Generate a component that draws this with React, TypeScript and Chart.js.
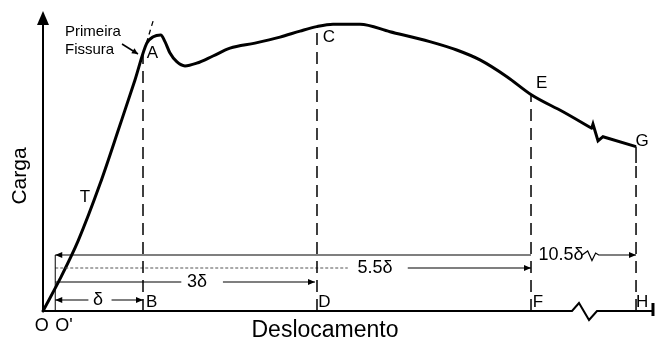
import { useEffect, useRef } from 'react';
import { Chart, registerables } from 'chart.js';

Chart.register(...registerables);

// ---- Data (displacement units 0..100, load units 0..100) ----
// Load–displacement curve (smooth part, before the break)
const curveX = [0, 2.78, 5.72, 9.31, 12.58, 15.03, 16.94, 18.02, 19.23, 19.93, 20.75, 21.85, 23.2, 25.11, 27.78, 30.56, 34.64, 38.73, 42.0, 44.72, 47.39, 51.8, 56.7, 63.2, 67.6, 71.4, 75.8, 79.85, 84.97, 89.66];
const curveY = [0, 10.7, 23.3, 42.3, 62, 77, 89.2, 91.4, 92, 89.8, 86, 83.1, 81.7, 82.6, 85, 87.6, 89.3, 91.3, 93.3, 94.8, 95.6, 95.6, 93.1, 89.8, 87, 83.7, 78.1, 72, 66.4, 60.9];
// Curve after the break (zigzag) up to G
const tailX = [89.66, 89.87, 90.69, 91.5, 96.9];
const tailY = [60.9, 62.3, 56.7, 58.1, 54.8];

// Characteristic deflections B, D, F, H and the load at each
const markNames = ['B', 'D', 'F', 'H'];
const markX = [16.34, 44.77, 79.74, 96.9];
const markTopY = [85.3, 94.8, 72, 49.3];
// G tick (solid piece above the H dashed line)
const gTickY = [49.3, 54.8];

// First-crack tangent extension
const tangentX = [16.9, 18.14];
const tangentY = [89.3, 97.7];

// O' (origin corrected)
const oPrimeX = 2.0;

// Axes
const yAxisTop = 96;
const xAxisX = [0, 86.44, 87.58, 89.22, 90.52, 99.67];
const xAxisY = [0, 0, 2.67, -3, 0, 0];

// Dimension rows: 10.5δ, 5.5δ, 3δ, δ
const dimLabels = ['10.5δ', '5.5δ', '3δ', 'δ'];
const dimY = [18.67, 14.33, 9.67, 3.67];
const dimEndX = [96.9, 79.74, 44.44, 16.34];
const dimGapStart = [79.74, 49.8, 22.6, 7.42];
const dimGapEnd = [88.1, 59.6, 29.4, 11.2];
const dimLabelX = [84.64, 54.25, 25.16, 8.99];
// squiggle on the 10.5δ row
const squiggleX = [88.1, 89.0, 89.7, 90.3, 90.8, 96.9];
const squiggleDY = [0, 1.33, -1.87, 0.63, 0, 0];

// Point labels
const pointLabels = [
  { t: 'A', x: 17.89, y: 85.83 },
  { t: 'C', x: 46.73, y: 91.17 },
  { t: 'E', x: 81.49, y: 76 },
  { t: 'G', x: 97.88, y: 56.67 },
  { t: 'T', x: 6.86, y: 38 },
  { t: 'B', x: 17.76, y: 3 },
  { t: 'D', x: 45.96, y: 3 },
  { t: 'F', x: 80.88, y: 3 },
  { t: 'H', x: 97.88, y: 3 },
];

const FONT = '"Liberation Sans", Arial, Helvetica, sans-serif';

function line(xs: number[], ys: number[], opts: any = {}) {
  return {
    data: xs.map((x, i) => ({ x, y: ys[i] })),
    showLine: true,
    pointRadius: 0,
    borderColor: '#000',
    borderWidth: 1,
    fill: false,
    clip: false,
    tension: 0,
    ...opts,
  };
}

function arrowHead(ctx: CanvasRenderingContext2D, fx: number, fy: number, tx: number, ty: number, len: number, half: number) {
  const a = Math.atan2(ty - fy, tx - fx);
  ctx.beginPath();
  ctx.moveTo(tx, ty);
  ctx.lineTo(tx - len * Math.cos(a) + half * Math.sin(a), ty - len * Math.sin(a) - half * Math.cos(a));
  ctx.lineTo(tx - len * Math.cos(a) - half * Math.sin(a), ty - len * Math.sin(a) + half * Math.cos(a));
  ctx.closePath();
  ctx.fill();
}

const annotPlugin = {
  id: 'annot',
  afterDatasetsDraw(chart: any) {
    const { ctx } = chart;
    const sx = chart.scales.x;
    const sy = chart.scales.y;
    const px = (v: number) => sx.getPixelForValue(v);
    const py = (v: number) => sy.getPixelForValue(v);
    ctx.save();
    ctx.fillStyle = '#000';
    ctx.strokeStyle = '#000';

    // y-axis arrowhead
    arrowHead(ctx, px(0), py(0), px(0), py(100), 14, 6);

    // dimension arrowheads (right ends)
    dimY.forEach((y, i) => {
      arrowHead(ctx, px(dimEndX[i]) - 10, py(y), px(dimEndX[i]), py(y), 7, 3);
    });
    // left arrowheads for rows 10.5δ and δ
    [0, 3].forEach((i) => {
      arrowHead(ctx, px(oPrimeX) + 10, py(dimY[i]), px(oPrimeX), py(dimY[i]), 7, 3);
    });

    // Primeira Fissura pointer
    ctx.lineWidth = 1.5;
    ctx.beginPath();
    ctx.moveTo(px(12.91), py(89));
    ctx.lineTo(px(15.52), py(85.67));
    ctx.stroke();
    arrowHead(ctx, px(12.91), py(89), px(15.52), py(85.67), 6, 3);

    ctx.textAlign = 'center';
    ctx.textBaseline = 'middle';

    // point labels
    ctx.font = `17px ${FONT}`;
    pointLabels.forEach((l) => ctx.fillText(l.t, px(l.x), py(l.y)));

    // O and O'
    ctx.font = `18px ${FONT}`;
    ctx.fillText('O', px(-0.2), py(-5));
    ctx.textAlign = 'left';
    ctx.fillText("O'", px(oPrimeX), py(-5));

    // dimension labels
    ctx.textAlign = 'center';
    ctx.font = `18px ${FONT}`;
    dimLabels.forEach((t, i) => ctx.fillText(t, px(dimLabelX[i]), py(dimY[i])));

    // first-crack note
    ctx.font = `15px ${FONT}`;
    ctx.textAlign = 'left';
    ctx.fillText('Primeira', px(3.59), py(93.1));
    ctx.fillText('Fissura', px(3.59), py(87));

    // axis titles
    ctx.textAlign = 'center';
    ctx.font = `23px ${FONT}`;
    ctx.fillText('Deslocamento', px(46.08), py(-6.4));
    ctx.save();
    ctx.translate(px(-3.76), py(45));
    ctx.rotate(-Math.PI / 2);
    ctx.font = `21px ${FONT}`;
    ctx.fillText('Carga', 0, 0);
    ctx.restore();

    ctx.restore();
  },
};

export default function App() {
  const ref = useRef<HTMLCanvasElement>(null);
  useEffect(() => {
    if (!ref.current) return;
    const dashed = { borderDash: [12, 7], borderWidth: 1.5 };
    const datasets: any[] = [];
    // axes
    datasets.push(line([0, 0], [0, yAxisTop], { borderWidth: 2 }));
    datasets.push(line(xAxisX, xAxisY, { borderWidth: 2 }));
    datasets.push(line([99.67, 99.67], [2.67, -1.67], { borderWidth: 3 }));
    // dashed verticals
    markX.forEach((x, i) => datasets.push(line([x, x], [0, markTopY[i]], dashed)));
    datasets.push(line([markX[3], markX[3]], gTickY, { borderWidth: 1.5 }));
    datasets.push(line(tangentX, tangentY, { borderDash: [5, 4], borderWidth: 1.3 }));
    // O' vertical
    datasets.push(line([oPrimeX, oPrimeX], [0, dimY[0]], { borderWidth: 1 }));
    // dimension rows
    dimY.forEach((y, i) => {
      const leftOpts = i === 1 ? { borderColor: '#555', borderDash: [3, 2] } : {};
      datasets.push(line([oPrimeX, dimGapStart[i]], [y, y], { borderWidth: 1.2, ...leftOpts }));
      if (i === 0) {
        datasets.push(line(squiggleX, squiggleDY.map((d) => y + d), { borderWidth: 1.2 }));
      } else {
        datasets.push(line([dimGapEnd[i], dimEndX[i]], [y, y], { borderWidth: 1.2 }));
      }
    });
    // curve
    datasets.push(line(curveX, curveY, { borderWidth: 3, cubicInterpolationMode: 'monotone', borderJoinStyle: 'round', borderCapStyle: 'round' }));
    datasets.push(line(tailX, tailY, { borderWidth: 3, borderJoinStyle: 'miter' }));

    const chart = new Chart(ref.current, {
      type: 'scatter',
      data: { datasets },
      options: {
        animation: false,
        responsive: false,
        devicePixelRatio: 1,
        events: [],
        layout: { padding: { left: 43, right: 2, top: 11, bottom: 28 } },
        plugins: { legend: { display: false }, tooltip: { enabled: false } },
        scales: {
          x: { type: 'linear', min: 0, max: 100, display: false },
          y: { type: 'linear', min: 0, max: 100, display: false },
        },
      },
      plugins: [annotPlugin],
    });
    return () => chart.destroy();
  }, []);
  return (
    <div style={{ position: 'absolute', left: 0, top: 0, width: 657, height: 339, background: '#fff' }}>
      <canvas ref={ref} width={657} height={339} />
    </div>
  );
}
